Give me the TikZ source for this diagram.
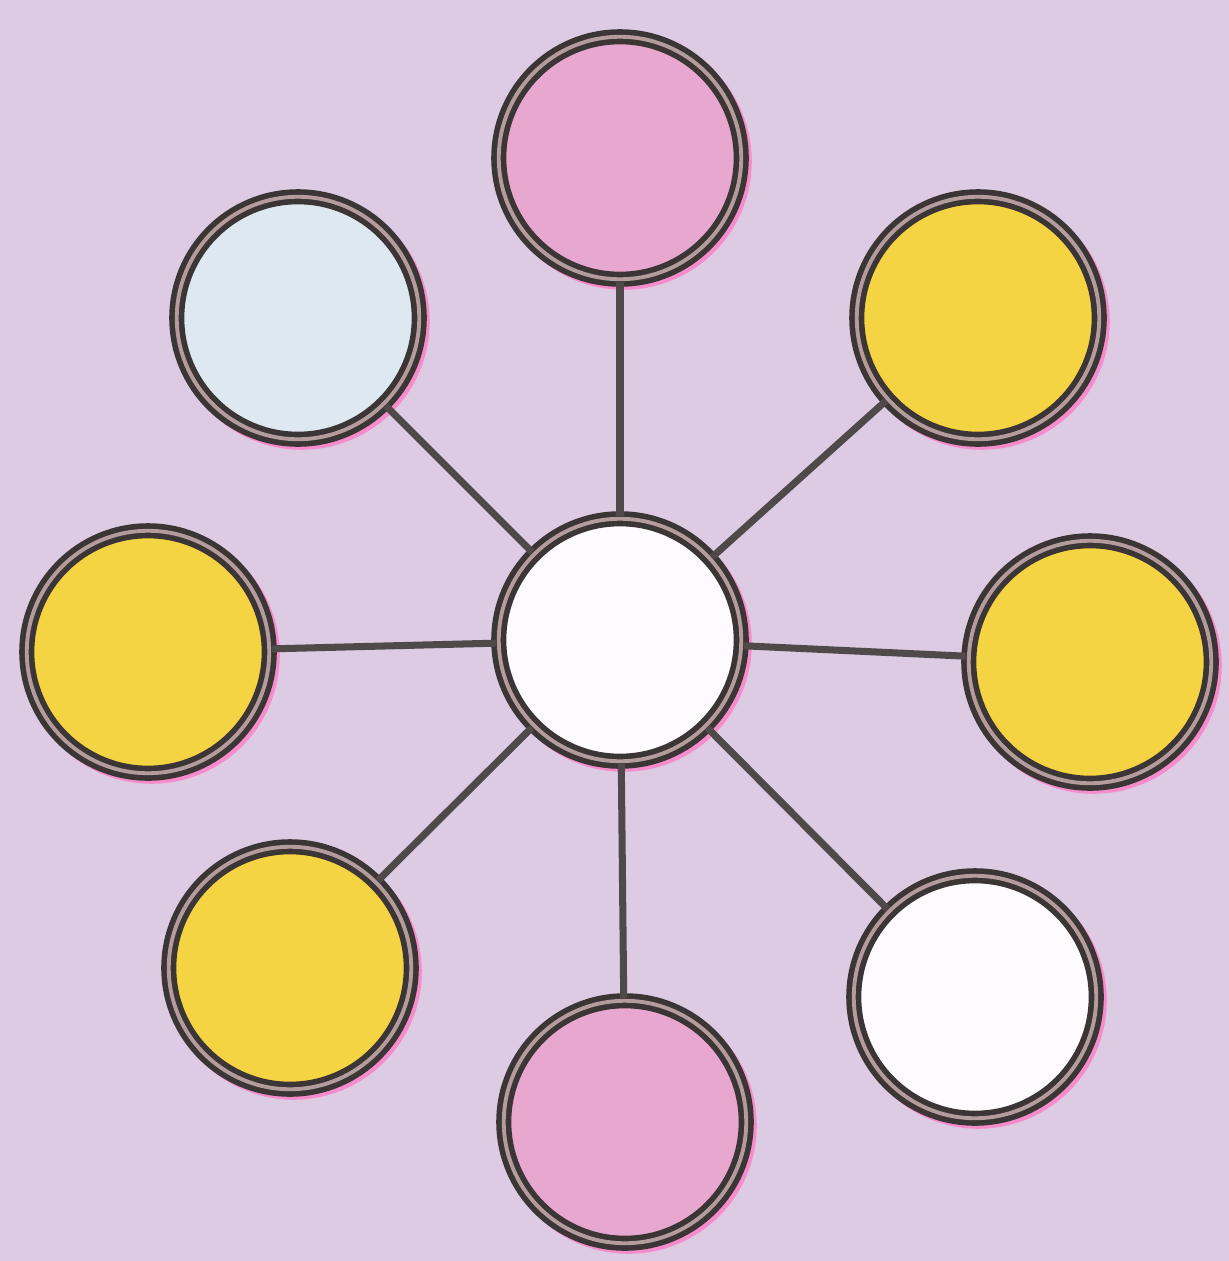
\documentclass[tikz,border=0pt]{standalone}
\usetikzlibrary{positioning}
\definecolor{bgcol}{HTML}{DCCBE2}
\definecolor{ringcol}{HTML}{3B3535}
\definecolor{gapcol}{HTML}{B49C9C}
\definecolor{pinkcol}{HTML}{E8A7CF}
\definecolor{bluecol}{HTML}{DDE8F0}
\definecolor{yelcol}{HTML}{F5D443}
\definecolor{whcol}{HTML}{FDFBFD}
\begin{document}
\begin{tikzpicture}[x=0.02cm, y=-0.02cm,
    ring/.style={circle, inner sep=0pt, minimum size=4.85cm, draw=ringcol,
      line width=3.2pt, double=gapcol, double distance=2.2pt,
      preaction={draw=magenta!45, line width=8pt, transform canvas={shift={(2pt,-2pt)}}}},
    pk/.style={ring, fill=pinkcol},
    bl/.style={ring, fill=bluecol},
    yl/.style={ring, fill=yelcol},
    wt/.style={ring, fill=whcol},
    spoke/.style={draw=ringcol!90, line width=4pt},
  ]
  \fill[bgcol] (0,0) rectangle (1229,1261);
  \useasboundingbox (0,0) rectangle (1229,1261);
  \node[wt] (hub) at (620,640) {};
  \node[pk] (n1) at (620,158) {};
  \node[yl] (n2) at (978,318) {};
  \node[yl] (n3) at (1090,662) {};
  \node[wt] (n4) at (975,997) {};
  \node[pk] (n5) at (625,1122) {};
  \node[yl] (n6) at (290,968) {};
  \node[yl] (n7) at (148,652) {};
  \node[bl] (n8) at (298,318) {};
  \foreach \n in {n1,n2,n3,n4,n5,n6,n7,n8}
    \draw[spoke] (hub) -- (\n);
\end{tikzpicture}
\end{document}
